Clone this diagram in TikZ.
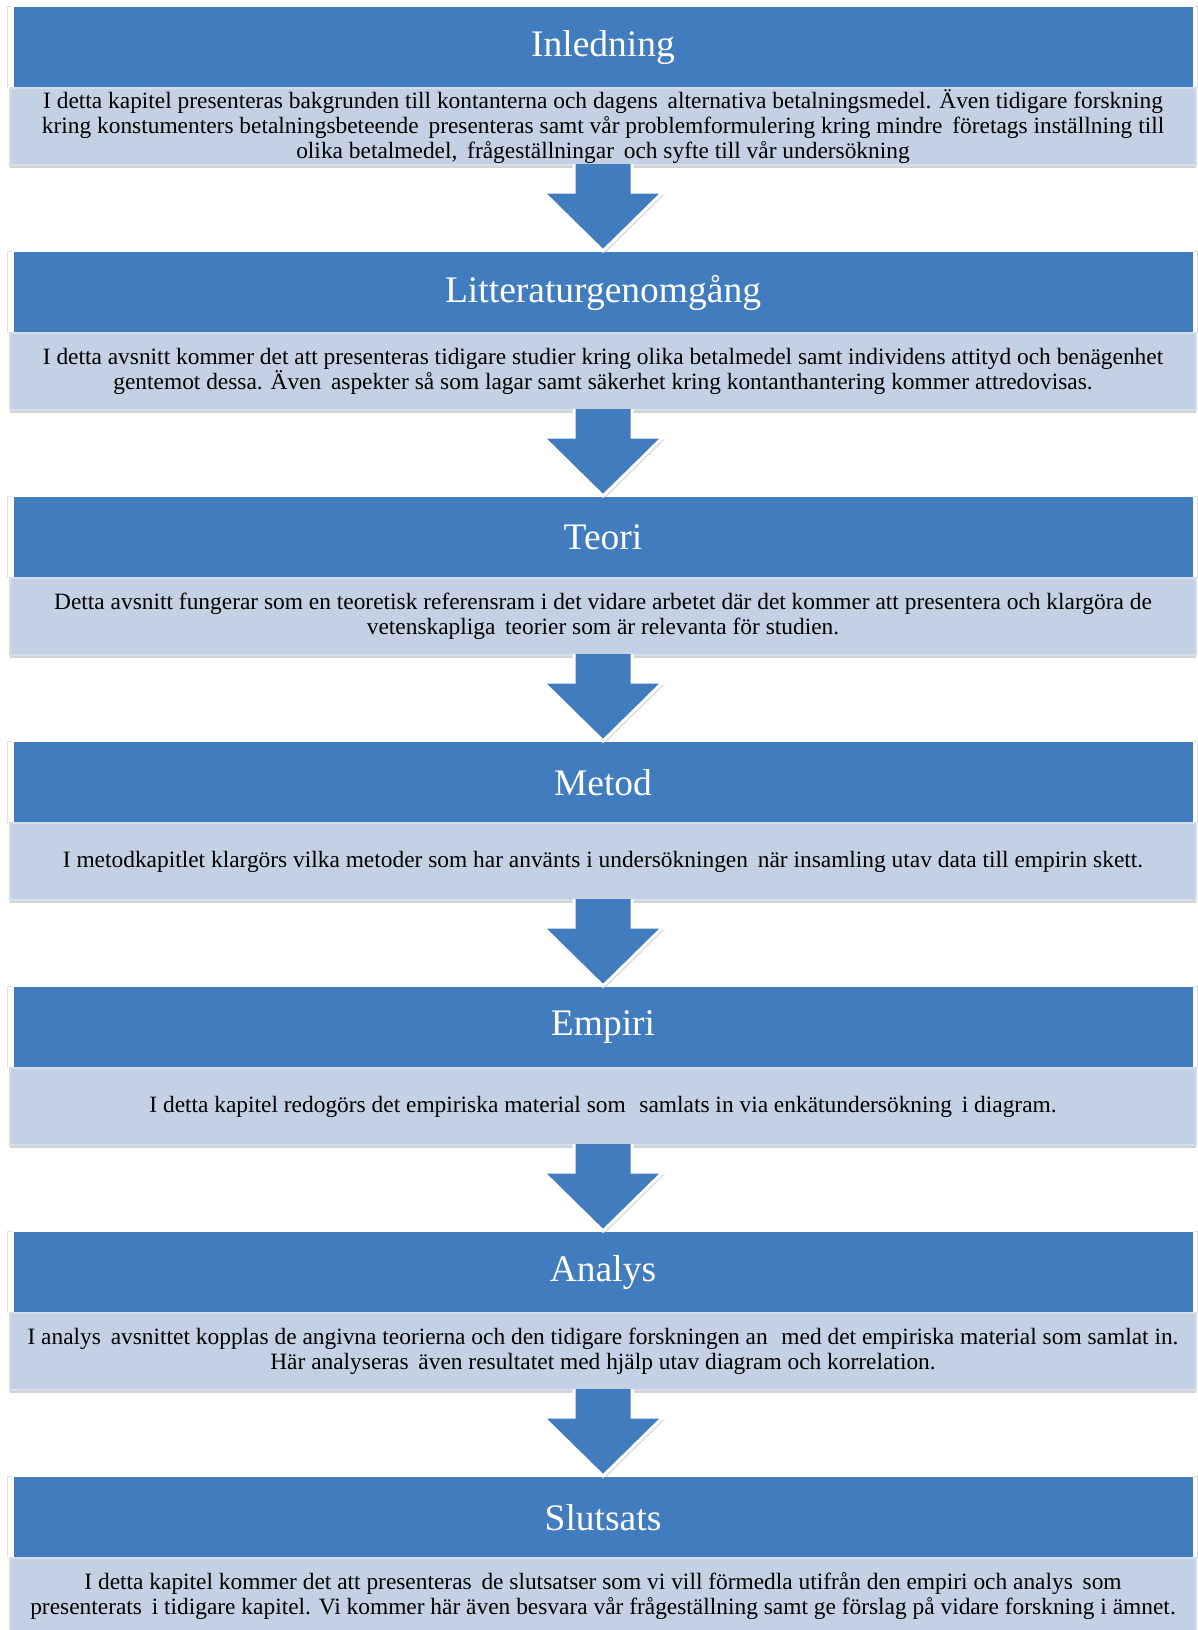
\documentclass[tikz,border=0pt]{standalone}
\usepackage{fontspec}
\setmainfont{Liberation Serif}
\usetikzlibrary{calc,shadows}
\definecolor{hdrblue}{RGB}{65,124,190}
\definecolor{bodyfill}{RGB}{196,208,227}
\definecolor{bodyedge}{RGB}{214,222,236}
\tikzset{
  hdr/.style={fill=hdrblue, draw=none, text=white, minimum width=1179pt, minimum height=81pt,
    inner sep=0pt, outer sep=0pt, anchor=north, font=\fontsize{37.5}{42}\selectfont},
  bdy/.style={fill=bodyfill, draw=bodyedge, line width=1.5pt, minimum width=1186pt, minimum height=77pt,
    inner sep=0pt, outer sep=0pt, anchor=north, align=center, text=black,
    font=\fontsize{23.4}{25}\selectfont,
    drop shadow={opacity=0.35, shadow xshift=0pt, shadow yshift=-3pt}},
  frm/.style={draw=black!12, line width=0.8pt},
  bigarrow/.style={fill=hdrblue, draw=white, line width=3pt, line join=miter,
    drop shadow={opacity=0.3, shadow xshift=1.5pt, shadow yshift=-2.5pt}}
}
\newcommand{\flowarrow}[2]{%
  \draw[bigarrow] ($(#1.south)+(-29,-1)$) -- ($(#1.south)+(-29,27)$) -- ($(#1.south)+(-60,27)$)
    -- ($(#2.north)+(0,-1)$) -- ($(#1.south)+(60,27)$) -- ($(#1.south)+(29,27)$) -- ($(#1.south)+(29,-1)$);}
\begin{document}
\begin{tikzpicture}[x=1pt,y=-1pt]
\useasboundingbox (0,0) rectangle (1198,1630);
\fill[white] (0,0) rectangle (1198,1630);
% faint frame edges beside headers
\foreach \t in {7,252,497,742,987,1232,1477}{
  \draw[frm] (7,\t+81) -- (7,\t-1) -- (12,\t-1);
  \draw[frm] (1197,\t+81) -- (1197,\t-1) -- (1194,\t-1);
}
% block 1
\node[hdr] (h1) at (603,7) {Inledning};
\node[bdy] (b1) at (h1.south) {I detta kapitel presenteras bakgrunden till kontanterna och dagens\, alternativa betalningsmedel. Även tidigare forskning\\
kring konstumenters betalningsbeteende\, presenteras samt vår problemformulering kring mindre\, företags inställning till\\
olika betalmedel,\, frågeställningar\, och syfte till vår undersökning};
% block 2
\node[hdr] (h2) at (603,252) {Litteraturgenomgång};
\node[bdy] (b2) at (h2.south) {I detta avsnitt kommer det att presenteras tidigare studier kring olika betalmedel samt individens attityd och benägenhet\\
gentemot dessa. Även\, aspekter så som lagar samt säkerhet kring kontanthantering kommer attredovisas.};
% block 3
\node[hdr] (h3) at (603,497) {Teori};
\node[bdy] (b3) at (h3.south) {Detta avsnitt fungerar som en teoretisk referensram i det vidare arbetet där det kommer att presentera och klargöra de\\
vetenskapliga\, teorier som är relevanta för studien.};
% block 4
\node[hdr] (h4) at (603,742) {Metod};
\node[bdy] (b4) at (h4.south) {I metodkapitlet klargörs vilka metoder som har använts i undersökningen\, när insamling utav data till empirin skett.};
% block 5
\node[hdr] (h5) at (603,987) {Empiri};
\node[bdy] (b5) at (h5.south) {I detta kapitel redogörs det empiriska material som\,\, samlats in via enkätundersökning\, i diagram.};
% block 6
\node[hdr] (h6) at (603,1232) {Analys};
\node[bdy] (b6) at (h6.south) {I analys\, avsnittet kopplas de angivna teorierna och den tidigare forskningen an\,\, med det empiriska material som samlat in.\\
Här analyseras\, även resultatet med hjälp utav diagram och korrelation.};
% block 7
\node[hdr] (h7) at (603,1477) {Slutsats};
\node[bdy] (b7) at (h7.south) {I detta kapitel kommer det att presenteras\, de slutsatser som vi vill förmedla utifrån den empiri och analys\, som\\
presenterats\, i tidigare kapitel. Vi kommer här även besvara vår frågeställning samt ge förslag på vidare forskning i ämnet.};
% arrows
\flowarrow{b1}{h2}
\flowarrow{b2}{h3}
\flowarrow{b3}{h4}
\flowarrow{b4}{h5}
\flowarrow{b5}{h6}
\flowarrow{b6}{h7}
\end{tikzpicture}
\end{document}
